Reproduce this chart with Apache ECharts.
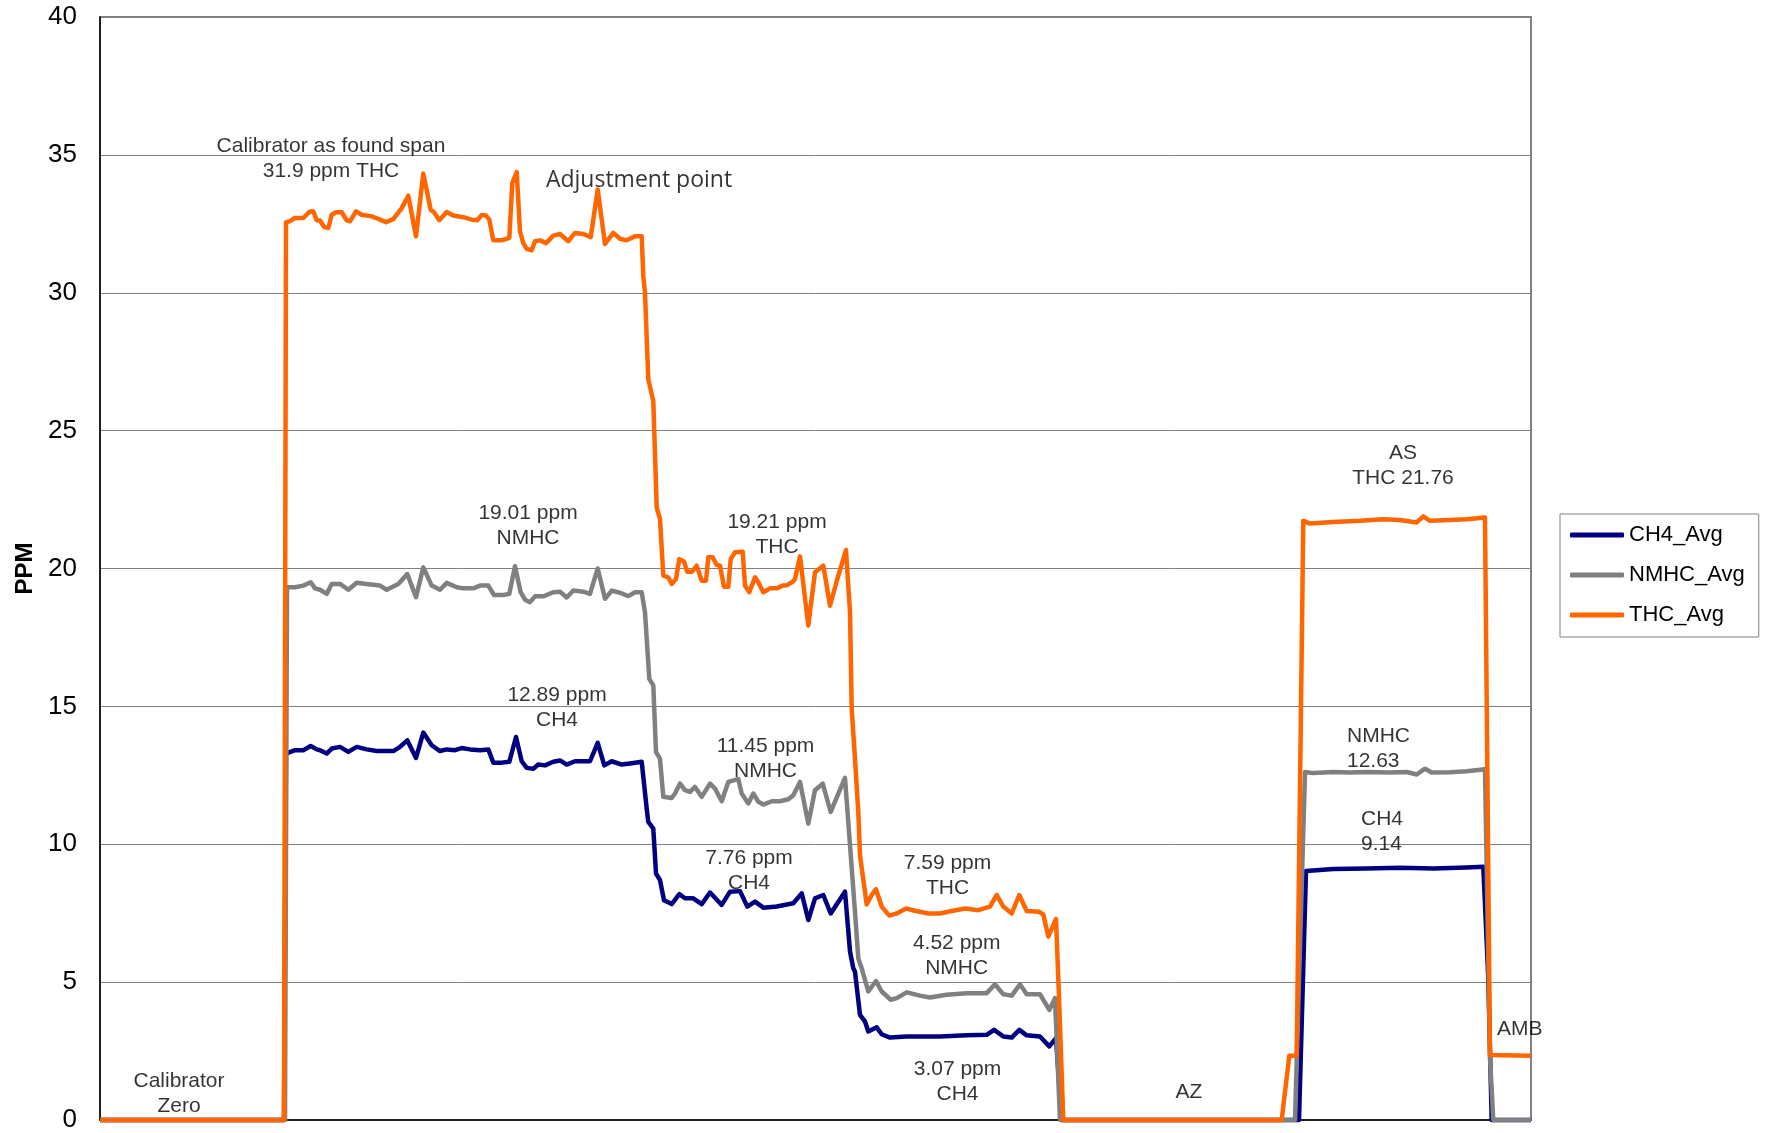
<!DOCTYPE html>
<html><head><meta charset="utf-8">
<script src="https://cdn.jsdelivr.net/npm/echarts@6/dist/echarts.min.js"></script>
<style>html,body{margin:0;padding:0;background:#fff}#c{width:1765px;height:1133px}</style>
</head><body><div id="c"></div>
<script>
// sample index (x) and ppm value (y)
const seriesNames = ['CH4_Avg', 'NMHC_Avg', 'THC_Avg'];
const seriesColors = ['#000080', '#808080', '#FF6600'];
const yTicks = { min: 0, max: 40, interval: 5 };
const xRange = { min: 0, max: 1431 };

const ch4Avg = [
  [0,0],[184,0],[186,13.29],[195,13.41],[203.3,13.41],[210.7,13.56],[216.7,13.44],[220,13.41],[226.7,13.29],[231.7,13.47],
  [240,13.53],[248.3,13.35],[256.7,13.53],[266.7,13.44],[276.7,13.38],[293.3,13.38],[300,13.53],[307.3,13.77],[316,13.13],
  [323.3,14.05],[331.7,13.59],[340,13.38],[346.7,13.44],[355,13.41],[361.7,13.49],[370,13.44],[380,13.41],[388.3,13.44],
  [393.3,12.96],[401.7,12.96],[409.3,12.99],[416,13.89],[421.7,13.01],[426.7,12.77],[433.3,12.74],[438.3,12.89],[445,12.86],
  [453.3,12.99],[460,13.04],[466.7,12.89],[475,13.01],[490,13.01],[497.7,13.68],[504.3,12.86],[511.7,13.01],[521.7,12.89],
  [530,12.93],[541.7,12.99],[546.7,11.29],[548.3,10.81],[553.3,10.57],[556,8.94],[560,8.7],[564,7.97],
  [571.7,7.83],[579.3,8.19],[585,8.04],[593.3,8.04],[601.7,7.83],[610,8.25],[615,8.06],[621.7,7.8],[630,8.28],[640,8.3],
  [647.3,7.74],[655,7.92],[663.3,7.7],[676.7,7.74],[693.3,7.86],[701.7,8.22],[708.3,7.25],[715,8.04],[723.3,8.16],
  [730.7,7.49],[745,8.28],[750,6.11],[753.3,5.5],[755,5.38],[760,3.81],[765,3.57],[768.3,3.21],[776.7,3.36],[781.7,3.11],
  [790,2.99],[806.7,3.03],[840,3.03],[866.7,3.07],[886.7,3.09],[894,3.27],[903.3,3.03],[911.7,2.99],[919.3,3.27],[926.7,3.07],
  [940,3.03],[949.3,2.67],[956,2.97],[961.7,0],
  [1199,0],[1206,9.03],[1233.3,9.1],[1266.7,9.12],[1300,9.15],[1333.3,9.12],[1366.7,9.16],[1383.3,9.18],[1388.3,5.14],
  [1391.7,0],[1431,0]
];

const nmhcAvg = [
  [0,0],[185,0],[187,19.32],[195,19.32],[203.3,19.38],[210.7,19.5],[215,19.28],[220,19.23],[226.7,19.08],[231.7,19.44],
  [240,19.44],[248.3,19.23],[256.7,19.48],[266.7,19.44],[280,19.38],[286.7,19.23],[298.3,19.44],[307.3,19.8],[316,18.96],
  [323.3,20.04],[331.7,19.38],[340,19.23],[346.7,19.48],[356.7,19.32],[363.3,19.28],[373.3,19.28],[380,19.38],[388.3,19.38],
  [394,19.04],[403.3,19.04],[409.3,19.08],[415,20.08],[420.7,19.14],[425,18.87],[430,18.78],[435,18.99],[443.3,18.99],
  [453.3,19.14],[460,19.16],[466.7,18.95],[473.3,19.2],[483.3,19.16],[490,19.08],[497.7,20.0],[505,18.9],[511.7,19.2],
  [520,19.12],[528.3,19.0],[535,19.14],[541.7,19.14],[545,18.41],[549.3,16.0],[553.3,15.76],[556,13.35],[560,13.1],[563.3,11.72],
  [571.7,11.68],[575,11.84],[580,12.2],[585,11.96],[590,11.9],[595,12.08],[601.7,11.72],[610,12.2],[615,12.02],[621.7,11.56],
  [628.3,12.26],[638.3,12.36],[641.7,11.84],[648.3,11.48],[653.3,11.84],[658.3,11.54],[663.3,11.44],[671.7,11.56],[680,11.56],
  [688.3,11.63],[693.3,11.78],[700,12.26],[708.3,10.75],[715,11.96],[722.7,12.2],[730.7,11.17],[739.3,11.92],[745,12.41],
  [750,9.97],[755,7.55],[758.3,5.86],[761.7,5.5],[768.3,4.66],[776,5.04],[781.7,4.66],[790.7,4.36],[796.7,4.42],[806.7,4.63],
  [820,4.51],[830,4.44],[846.7,4.54],[866.7,4.6],[886.7,4.6],[895,4.92],[903.3,4.56],[911.7,4.51],[920,4.92],[926.7,4.56],
  [940,4.56],[949.3,3.99],[955,4.42],[960,0],
  [1195,0],[1205,12.62],[1213.3,12.58],[1233,12.62],[1250,12.6],[1266.7,12.62],[1290,12.6],[1306.7,12.62],[1316.7,12.53],
  [1325,12.74],[1331.7,12.6],[1350,12.61],[1366.7,12.65],[1385,12.72],[1390,2.24],[1393.3,0],[1431,0]
];

const thcAvg = [
  [0,0],[184,0],[186,32.55],[190,32.6],[195,32.71],[203.3,32.71],[210,32.95],[213.3,32.95],[216.7,32.63],[220,32.62],
  [224,32.39],[228.3,32.35],[231.7,32.83],[236,32.92],[241.7,32.92],[246.7,32.63],[250,32.59],[256,32.95],[261.7,32.83],
  [271.7,32.77],[278.3,32.68],[286,32.56],[293.3,32.67],[301.7,33.07],[308.3,33.52],[316,32.05],[323.3,34.32],[330.7,33.01],
  [334,32.92],[339.3,32.63],[346.7,32.93],[353.3,32.8],[363.3,32.74],[371.7,32.65],[377.3,32.63],[381.7,32.82],[386,32.8],
  [389.3,32.65],[393.3,31.9],[401.7,31.9],[409.3,31.99],[412.3,33.98],[416.7,34.38],[420,32.23],[423.3,31.8],[426.7,31.59],
  [431.7,31.54],[435,31.87],[440,31.9],[446,31.8],[453.3,32.07],[460,32.13],[468.3,31.87],[475,32.17],[483.3,32.13],
  [490.7,32.02],[497.7,33.74],[505,31.77],[513.3,32.17],[520,31.96],[526.7,31.9],[535,32.05],[541.7,32.05],
  [543.3,30.6],[545,30.0],[548.3,26.86],[553.3,26.07],[556.7,22.21],[560,21.79],[563.3,19.74],
  [568.3,19.68],[571.7,19.44],[576,19.62],[579.3,20.34],[584,20.25],[587.3,19.88],[591.7,19.88],[596.7,20.1],[598.3,20.1],
  [601.7,19.56],[606,19.56],[608.3,20.41],[612.7,20.41],[616.7,20.13],[620,20.1],[624,19.34],[628.3,19.34],[630.7,20.34],
  [635,20.59],[642.7,20.61],[645,19.38],[649.3,19.14],[655,19.68],[658.3,19.5],[663.3,19.14],[670,19.28],[676.7,19.28],
  [682.7,19.38],[686.7,19.39],[692.7,19.52],[695,19.62],[700,20.44],[708.3,17.93],[715,19.86],[723.3,20.1],[730,18.65],
  [737.3,19.62],[746,20.67],[750,18.42],[751.7,14.91],[755,13.1],[758.3,11.17],[760,9.6],[766.7,7.82],[771.7,8.16],
  [776,8.37],[781.7,7.74],[789.3,7.41],[796.7,7.49],[806,7.67],[815,7.59],[828.3,7.49],[840,7.49],[851.7,7.58],[865,7.67],
  [878.3,7.61],[890,7.74],[896.7,8.16],[903.3,7.74],[911.7,7.49],[919.3,8.16],[926.7,7.58],[939.3,7.55],[943.3,7.45],
  [948.3,6.65],[956,7.29],[959.3,4.17],[963.3,0],
  [1181.7,0],[1189.3,2.33],[1196.7,2.33],[1203.3,21.73],[1210,21.63],[1233.3,21.69],[1260,21.73],[1283.3,21.79],[1300,21.76],
  [1316.7,21.67],[1323.3,21.89],[1330,21.73],[1350,21.76],[1366.7,21.79],[1385,21.85],[1390,2.36],[1431,2.33]
];

// annotation texts: [x, y, text, align, font]
const annotations = [
  [231, 34.87, 'Calibrator as found span\n31.9 ppm THC', 'center', 'arial'],
  [539, 34.06, 'Adjustment point', 'center', 'open'],
  [428, 21.55, '19.01 ppm\nNMHC', 'center', 'arial'],
  [457, 14.96, '12.89 ppm\nCH4', 'center', 'arial'],
  [677, 21.21, '19.21 ppm\nTHC', 'center', 'arial'],
  [665.5, 13.1, '11.45 ppm\nNMHC', 'center', 'arial'],
  [649, 9.05, '7.76 ppm\nCH4', 'center', 'arial'],
  [847.5, 8.87, '7.59 ppm\nTHC', 'center', 'arial'],
  [856.7, 5.97, '4.52 ppm\nNMHC', 'center', 'arial'],
  [857.5, 1.4, '3.07 ppm\nCH4', 'center', 'arial'],
  [79, 0.95, 'Calibrator\nZero', 'center', 'arial'],
  [1089, 1.0, 'AZ', 'center', 'arial'],
  [1303, 23.72, 'AS\nTHC 21.76', 'center', 'arial'],
  [1247, 13.46, 'NMHC\n12.63', 'left', 'arial'],
  [1261, 10.45, 'CH4\n9.14', 'left', 'arial'],
  [1397, 3.31, 'AMB', 'left', 'arial']
];

const FONT = "'Liberation Sans', Arial, sans-serif";
const chart = echarts.init(document.getElementById('c'), null, { renderer: 'canvas' });

const lineData = [ch4Avg, nmhcAvg, thcAvg];
const lineSeries = seriesNames.map((name, i) => ({
  name: name,
  type: 'line',
  data: lineData[i],
  showSymbol: false,
  symbol: 'none',
  clip: false,
  z: 3 + i,
  lineStyle: { color: seriesColors[i], width: 4.5, join: 'round' },
  itemStyle: { color: seriesColors[i] },
  animation: false
}));

const annotationSeries = {
  name: 'annotations',
  type: 'scatter',
  silent: true,
  symbolSize: 1,
  itemStyle: { color: 'rgba(0,0,0,0)' },
  z: 10,
  animation: false,
  data: annotations.map(a => ({
    value: [a[0], a[1]],
    label: {
      show: true,
      position: 'inside',
      formatter: a[2],
      align: a[3],
      verticalAlign: 'middle',
      fontFamily: a[4] === 'open' ? "'Open Sans', sans-serif" : FONT,
      fontSize: a[4] === 'open' ? 23 : 21,
      lineHeight: 25,
      color: '#000',
      textBorderWidth: 0
    }
  }))
};

chart.setOption({
  backgroundColor: '#ffffff',
  animation: false,
  textStyle: { fontFamily: FONT },
  grid: {
    left: 100, right: 234, top: 17, bottom: 11,
    show: true, borderColor: '#808080', borderWidth: 2, backgroundColor: 'transparent'
  },
  legend: {
    data: seriesNames,
    orient: 'vertical',
    left: 1560, top: 514,
    padding: [10, 14, 11, 10],
    borderColor: '#808080', borderWidth: 1,
    icon: 'roundRect',
    itemWidth: 54, itemHeight: 5, itemGap: 18,
    textStyle: { fontSize: 22, color: '#000', fontFamily: FONT }
  },
  xAxis: {
    type: 'value', min: xRange.min, max: xRange.max,
    axisLine: { show: true, onZero: false, lineStyle: { color: '#000', width: 1.5 } },
    axisTick: { show: false }, axisLabel: { show: false }, splitLine: { show: false }
  },
  yAxis: {
    type: 'value', min: yTicks.min, max: yTicks.max, interval: yTicks.interval,
    name: 'PPM', nameLocation: 'middle', nameRotate: 90, nameGap: 61,
    nameTextStyle: { fontSize: 24, fontWeight: 'bold', color: '#000', fontFamily: FONT },
    axisLine: { show: true, lineStyle: { color: '#000', width: 1.5 } },
    axisTick: { show: false },
    axisLabel: { fontSize: 26, color: '#000', margin: 23, fontFamily: FONT },
    splitLine: { show: true, lineStyle: { color: '#808080', width: 1 } }
  },
  series: lineSeries.concat([annotationSeries])
});
</script>
</body></html>
